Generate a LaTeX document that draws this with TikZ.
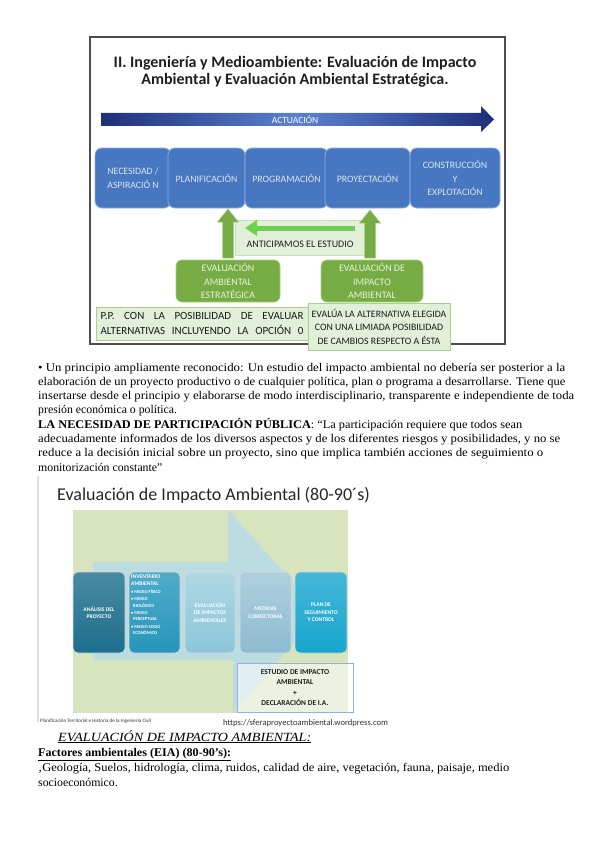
\documentclass[tikz,border=0pt]{standalone}
\usepackage{fontspec}
\setmainfont{Liberation Serif}
\newfontfamily\calf{Carlito}
\usetikzlibrary{arrows.meta,calc}
\newcommand{\fitw}[2]{\resizebox{#1}{\height}{#2}}
\definecolor{framegray}{HTML}{4D4D4D}
\definecolor{navy}{HTML}{1F2F7A}
\definecolor{midblue}{HTML}{5B82D0}
\definecolor{slideblue}{HTML}{4677C0}
\definecolor{slideedge}{HTML}{8FAADC}
\definecolor{boxtext}{HTML}{DDE4F0}
\definecolor{greenarr}{HTML}{77AB43}
\definecolor{greenedge}{HTML}{A9CF8A}
\definecolor{antfill}{HTML}{E2F0D9}
\definecolor{antedge}{HTML}{C5E0B4}
\definecolor{brightgreen}{HTML}{6FCF4F}
\definecolor{greentext}{HTML}{E8F2DE}
\definecolor{lightedge}{HTML}{A9D18E}
\definecolor{eiabg}{HTML}{D7E4BD}
\definecolor{eiaarrow}{HTML}{B9DDE6}
\definecolor{bA}{HTML}{1C6E8C}
\definecolor{bB}{HTML}{2596BB}
\definecolor{bC}{HTML}{8CC6D9}
\definecolor{bD}{HTML}{8DBBD0}
\definecolor{bE}{HTML}{17A5CE}
\definecolor{estedge}{HTML}{8EB4E3}
\tikzset{
  bluebox/.style={draw=slideedge, line width=0.8pt, fill=slideblue, rounded corners=7pt,
    minimum height=60pt, inner sep=1pt, align=center, text=boxtext,
    font=\calf\fontsize{9.8}{13.5}\selectfont},
  greenbox/.style={draw=greenedge, line width=0.6pt, fill=greenarr, rounded corners=6pt,
    minimum height=42pt, inner sep=1pt, align=center, text=greentext,
    font=\calf\fontsize{10}{13.5}\selectfont},
  lightbox/.style={draw=lightedge, line width=0.6pt, fill=antfill, inner sep=0pt,
    align=center, text=black!90},
  bigup/.style={fill=greenarr, draw=greenedge, line width=0.5pt},
  eiabox/.style={rounded corners=5pt, draw=white!70!gray, line width=0.6pt,
    minimum height=81pt, inner sep=1pt, align=center, text=white,
    font=\calf\bfseries\fontsize{5.6}{7.4}\selectfont},
  para/.style={anchor=base west, inner sep=0pt, font=\fontsize{11.8}{14}\selectfont},
}
\begin{document}
\begin{tikzpicture}[x=1pt,y=-1pt]
\useasboundingbox (0,0) rectangle (600,848);
\fill[white] (0,0) rectangle (600,848);

% ---------- upper slide ----------
\draw[framegray, line width=1.2pt] (90,37) rectangle (505,344);
\node[font=\calf\bfseries\fontsize{16}{17}\selectfont, align=center, text=black!88, inner sep=0pt]
  (title) at (295,72) {II. Ingeniería y Medioambiente: Evaluación de Impacto\\Ambiental y Evaluación Ambiental Estratégica.};

\shade[left color=navy, right color=navy, middle color=midblue]
  (101,113) -- (481,113) -- (481,106) -- (494,119.5) -- (481,132) -- (481,126) -- (101,126) -- cycle;
\node[font=\calf\fontsize{9.5}{10}\selectfont, text=white!90, inner sep=0pt] (act) at (295,119.5) {ACTUACIÓN};

\node[bluebox, minimum width=76pt] (nec) at (133,178) {NECESIDAD /\\ASPIRACIÓ N};
\node[bluebox, minimum width=77pt] (plan) at (206.5,178) {PLANIFICACIÓN};
\node[bluebox, minimum width=83pt] (prog) at (286.5,178) {PROGRAMACIÓN};
\node[bluebox, minimum width=85pt] (proy) at (367.5,178) {PROYECTACIÓN};
\node[bluebox, minimum width=90pt] (cons) at (455,178) {CONSTRUCCIÓN\\Y\\EXPLOTACIÓN};

\node[greenbox, minimum width=104pt] (eae) at (228,281) {EVALUACIÓN\\AMBIENTAL\\ESTRATÉGICA};
\node[greenbox, minimum width=102pt] (eia) at (372,281) {EVALUACIÓN DE\\IMPACTO\\AMBIENTAL};

% anticipamos box
\node[draw=antedge, fill=antfill, line width=0.6pt, minimum width=130pt, minimum height=35pt, inner sep=0pt]
  (antbox) at (300,237.5) {};
\coordinate (antstart) at (355,228);
\coordinate (antend) at (245,228);
\draw[brightgreen, line width=5pt, -{Triangle[length=12pt,width=15pt]}] (antstart) -- (antend);
\node[font=\calf\fontsize{10}{12}\selectfont, text=black!88, inner sep=0pt] (antxt) at (300,244) {ANTICIPAMOS EL ESTUDIO};

% up arrows
\fill[bigup] (222.5,258) -- (222.5,222) -- (217.5,222) -- (228,209) -- (238.5,222) -- (233.5,222) -- (233.5,258) -- cycle;
\fill[bigup] (364.5,258) -- (364.5,223) -- (359.5,223) -- (370,210) -- (380.5,223) -- (375.5,223) -- (375.5,258) -- cycle;

% bottom light boxes
\node[lightbox, minimum width=212pt, minimum height=33pt, font=\calf\fontsize{11}{15}\selectfont]
  (pp) at (202,323.5) {\makebox[203pt][s]{P.P. CON LA POSIBILIDAD DE EVALUAR}\\\makebox[203pt][s]{ALTERNATIVAS INCLUYENDO LA OPCIÓN 0}};
\node[lightbox, minimum width=142pt, minimum height=47pt, font=\calf\fontsize{9.8}{13.5}\selectfont]
  (evalua) at (379,326.5) {EVALÚA LA ALTERNATIVA ELEGIDA\\CON UNA LIMIADA POSIBILIDAD\\DE CAMBIOS RESPECTO A ÉSTA};

% ---------- paragraph ----------
\node[para] (p1) at (38,371) {\fitw{527pt}{• Un principio ampliamente reconocido: Un estudio del impacto ambiental no debería ser posterior a la}};
\node[para] (p2) at (38,385.3) {\fitw{527pt}{elaboración de un proyecto productivo o de cualquier política, plan o programa a desarrollarse. Tiene que}};
\node[para] (p3) at (38,399.6) {\fitw{536pt}{insertarse desde el principio y elaborarse de modo interdisciplinario, transparente e independiente de toda}};
\node[para] (p4) at (38,413.9) {presión económica o política.};
\node[para] (p5) at (38,428.2) {\fitw{484pt}{\textbf{LA NECESIDAD DE PARTICIPACIÓN PÚBLICA}: “La participación requiere que todos sean}};
\node[para] (p6) at (38,442.5) {\fitw{522pt}{adecuadamente informados de los diversos aspectos y de los diferentes riesgos y posibilidades, y no se}};
\node[para] (p7) at (38,456.8) {\fitw{505pt}{reduce a la decisión inicial sobre un proyecto, sino que implica también acciones de seguimiento o}};
\node[para] (p8) at (38,471.1) {monitorización constante”};

% ---------- lower slide ----------
\draw[white!75!gray, line width=1.5pt] (38,476) -- (38,722);
\node[anchor=base west, inner sep=0pt, font=\calf\fontsize{18}{22}\selectfont, text=black!85]
  (title2) at (57,500) {Evaluación de Impacto Ambiental (80-90´s)};
\fill[eiabg] (73,510) rectangle (348,713);
\fill[eiaarrow, opacity=0.9] (93,562) -- (228,562) -- (228,510) -- (320,612) -- (233,713) -- (233,660) -- (93,660) -- cycle;

\node[eiabox, top color=bA!80!white, bottom color=bA, minimum width=52pt] (ana) at (99,612.5) {ANÁLISIS DEL\\PROYECTO};
\node[eiabox, top color=bB!80!white, bottom color=bB, minimum width=51pt] (inv) at (154.5,612.5) {};
\node[anchor=north west, inner sep=0pt, align=left, text=white, font=\calf\bfseries\fontsize{5.6}{6.6}\selectfont]
  (invt) at (131,575) {INVENTARIO\\AMBIENTAL\\[1.5pt]{\fontsize{4.5}{5.8}\selectfont • MEDIO FÍSICO}\\[0.5pt]{\fontsize{4.5}{5.8}\selectfont • MEDIO}\\{\fontsize{4.5}{5.8}\selectfont\ \ BIOLÓGICO}\\[0.5pt]{\fontsize{4.5}{5.8}\selectfont • MEDIO}\\{\fontsize{4.5}{5.8}\selectfont\ \ PERCEPTUAL}\\[0.5pt]{\fontsize{4.5}{5.8}\selectfont • MEDIO SOCIO}\\{\fontsize{4.5}{5.8}\selectfont\ \ ECONÓMICO}};
\node[eiabox, top color=bC!70!white, bottom color=bC, minimum width=50pt] (evi) at (210,612.5) {EVALUACIÓN\\DE IMPACTOS\\AMBIENTALES};
\node[eiabox, top color=bD!70!white, bottom color=bD, minimum width=51pt] (med) at (265.5,612.5) {MEDIDAS\\CORRECTORAS};
\node[eiabox, top color=bE!80!white, bottom color=bE, minimum width=52pt] (seg) at (321,612.5) {PLAN DE\\SEGUIMIENTO\\Y CONTROL};

\node[draw=estedge, line width=0.7pt, fill=white, fill opacity=0.55, text opacity=1,
  minimum width=116pt, minimum height=49pt, inner sep=0pt, align=center,
  font=\calf\bfseries\fontsize{7.5}{10.5}\selectfont, text=black!88]
  (est) at (295,687.5) {ESTUDIO DE IMPACTO\\AMBIENTAL\\+\\DECLARACIÓN DE I.A.};

\node[anchor=base west, inner sep=0pt, font=\calf\fontsize{5.1}{6}\selectfont, text=black!80]
  (cap1) at (40,722.5) {Planificación Territorial e Historia de la Ingeniería Civil};
\node[anchor=base west, inner sep=0pt, font=\calf\fontsize{8.6}{9}\selectfont, text=black!80]
  (cap2) at (223,725) {https://sferaproyectoambiental.wordpress.com};

% ---------- lower text ----------
\node[anchor=base west, inner sep=0pt, font=\itshape\fontsize{12.5}{14}\selectfont]
  (h1) at (58,741) {\underline{\fitw{253pt}{EVALUACIÓN DE IMPACTO AMBIENTAL:}}};
\node[anchor=base west, inner sep=0pt, font=\bfseries\fontsize{11.8}{14}\selectfont]
  (h2) at (38,756) {\underline{\fitw{193pt}{Factores ambientales (EIA) (80-90’s):}}};
\node[para] (q1) at (38,771.5) {\fitw{471pt}{‚Geología, Suelos, hidrología, clima, ruidos, calidad de aire, vegetación, fauna, paisaje, medio}};
\node[para] (q2) at (38,786) {socioeconómico.};
\end{tikzpicture}
\end{document}
